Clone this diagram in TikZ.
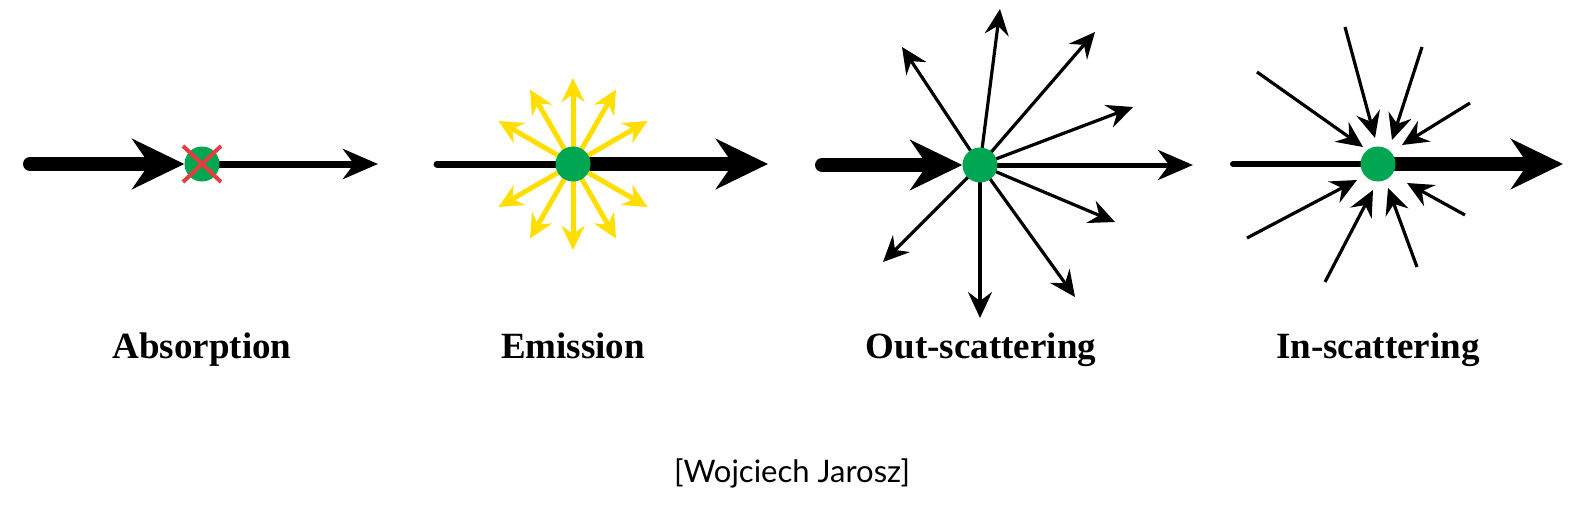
\documentclass[tikz,border=0pt]{standalone}
\usepackage{fontspec}
\setmainfont{Liberation Serif}
\newfontfamily\creditfont{Lato}
\usetikzlibrary{arrows.meta, backgrounds}

\definecolor{dotgreen}{RGB}{0,166,81}
\definecolor{glowyellow}{RGB}{255,222,0}
\definecolor{crossred}{RGB}{228,62,62}

\tikzset{
	dot/.style = {circle, fill = dotgreen, inner sep = 0pt, minimum size = 35pt},
	beam thick/.style = {line width = 14pt, line cap = round, -{Stealth[length = 52pt, width = 50pt, inset = 17pt]}},
	beam thin/.style = {line width = 6pt, line cap = round, -{Stealth[length = 35pt, width = 30pt, inset = 11pt]}},
	ray/.style = {line width = 3.2pt, -{Stealth[length = 26pt, width = 24pt, inset = 9pt]}},
	glow/.style = {glowyellow, line width = 5pt, -{Stealth[length = 24pt, width = 23pt, inset = 8pt]}},
	cross/.style = {crossred, line width = 4pt},
	caption/.style = {font = \bfseries\fontsize{37}{40}\selectfont, anchor = base}
}

\begin{document}
\begin{tikzpicture}[x = 1pt, y = -1pt]
	\useasboundingbox (0,0) rectangle (1582,527);

	\node [dot] (absorption dot) at (202,164) {};
	\node [dot] (emission dot) at (573,164) {};
	\node [dot] (out dot) at (980,165) {};
	\node [dot] (in dot) at (1378,164) {};

	\coordinate (absorption start) at (30,164);
	\coordinate (absorption end) at (378,164);
	\coordinate (emission start) at (437,164);
	\coordinate (emission end) at (768,164);
	\coordinate (out start) at (822,165);
	\coordinate (out end) at (1193,165);
	\coordinate (in start) at (1233,164);
	\coordinate (in end) at (1563,164);

	\begin{scope}[on background layer]
		% absorption
		\draw [beam thick] (absorption start) -- (absorption dot);
		\draw [beam thin, line width = 7pt] (absorption dot) -- (absorption end);

		% emission
		\draw [beam thin, line width = 7pt, -] (emission start) -- (emission dot);
		\draw [beam thick] (emission dot) -- (emission end);
		\foreach \ang in {30,60,90,120,150,210,240,270,300,330}
			\draw [glow] (emission dot.center) -- ++(\ang:86);

		% out-scattering
		\draw [beam thick] (out start) -- (out dot);
		\draw [beam thin, line width = 5pt] (out dot) -- (out end);
		\foreach \x/\y [count = \i] in {1000/9, 902/47, 1095/32, 1133/107, 1115/222, 1075/297, 980/318, 883/262}
		{
			\coordinate (scatter \i) at (\x,\y);
			\draw [ray] (out dot.center) -- (scatter \i);
		}

		% in-scattering
		\draw [beam thin, -] (in start) -- (in dot);
		\draw [beam thick] (in dot) -- (in end);
		\foreach \sx/\sy/\tx/\ty [count = \i] in {1257/72/1363/147, 1345/27/1375/138, 1422/47/1392/140, 1470/103/1402/145, 1247/238/1357/180, 1325/282/1373/190, 1417/267/1388/188, 1465/215/1407/183}
		{
			\coordinate (source \i) at (\sx,\sy);
			\coordinate (target \i) at (\tx,\ty);
			\draw [ray] (source \i) -- (target \i);
		}
	\end{scope}

	\draw [cross] ([shift = {(-19,-18)}] absorption dot.center) -- ([shift = {(19,18)}] absorption dot.center);
	\draw [cross] ([shift = {(-19,18)}] absorption dot.center) -- ([shift = {(19,-18)}] absorption dot.center);

	\node [caption] (absorption label) at (202,358) {Absorption};
	\node [caption] (emission label) at (573,358) {Emission};
	\node [caption] (out label) at (981,358) {Out-scattering};
	\node [caption] (in label) at (1378,358) {In-scattering};

	\node [font = \creditfont\fontsize{31}{34}\selectfont, anchor = base] (credit) at (792,482) {[Wojciech Jarosz]};
\end{tikzpicture}
\end{document}
